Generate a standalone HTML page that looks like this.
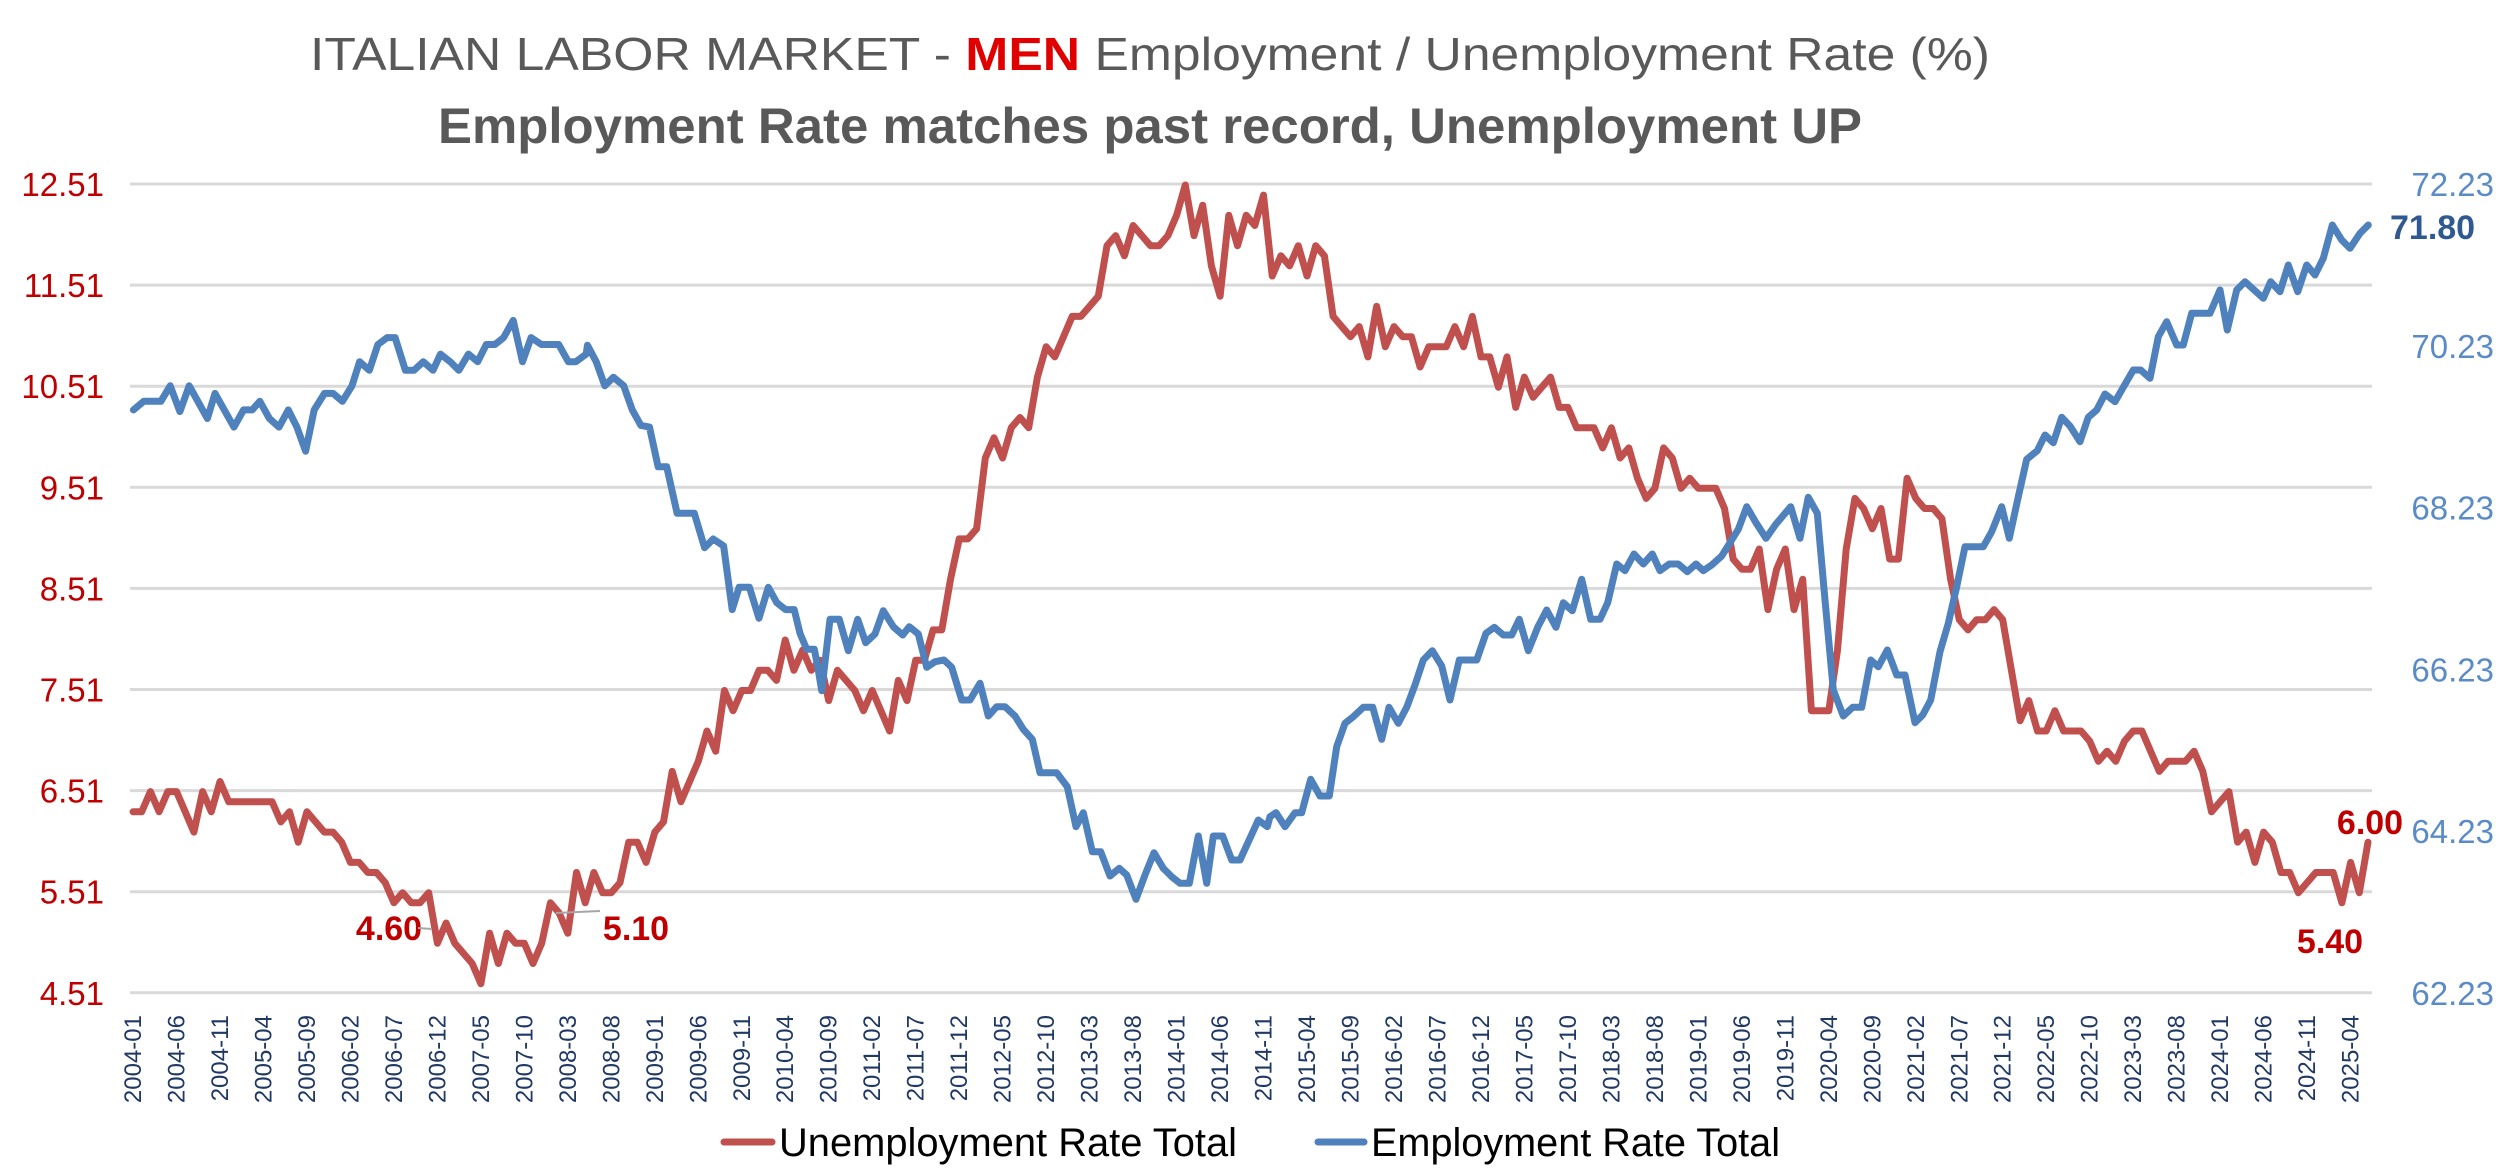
<!DOCTYPE html>
<html><head><meta charset="utf-8"><style>
html,body{margin:0;padding:0;background:#fff;}
svg{display:block;font-family:"Liberation Sans",sans-serif;}
</style></head><body>
<svg id="s" width="2500" height="1176" viewBox="0 0 2500 1176" xmlns="http://www.w3.org/2000/svg">
<rect width="2500" height="1176" fill="#fff"/>
<text x="1150" y="70" text-anchor="middle" font-size="46" fill="#595959" textLength="1680" lengthAdjust="spacingAndGlyphs">ITALIAN LABOR MARKET  - <tspan fill="#E00000" font-weight="bold">MEN</tspan> Employment / Unemployment Rate (%)</text>
<text x="1150" y="143" text-anchor="middle" font-size="50" font-weight="bold" fill="#595959" textLength="1424" lengthAdjust="spacingAndGlyphs">Employment Rate matches past record,  Unemployment UP</text>
<g id="grid" stroke="#D9D9D9" stroke-width="3"></g>
<g id="ylab" font-size="33" fill="#C00000" text-anchor="end"></g>
<g id="rlab" font-size="33" fill="#5B8BC7" text-anchor="end"></g>
<g id="xlab" font-size="24" fill="#1F3864" text-anchor="end"></g>
<polyline id="red" fill="none" stroke="#C0504D" stroke-width="7" stroke-linejoin="round" stroke-linecap="round"/>
<polyline id="blue" fill="none" stroke="#4F81BD" stroke-width="7" stroke-linejoin="round" stroke-linecap="round"/>
<g font-weight="bold" font-size="34" fill="#C00000">
<text x="389" y="940" text-anchor="middle">4.60</text>
<text x="636" y="940" text-anchor="middle">5.10</text>
<text x="2330" y="953" text-anchor="middle">5.40</text>
<text x="2370" y="834" text-anchor="middle">6.00</text>
<text x="2390" y="239" fill="#2F5A91">71.80</text>
</g>
<g stroke="#A6A6A6" stroke-width="2" fill="none">
<path d="M418 928 L432 929"/>
<path d="M556 913 L600 911"/>
</g>
<line x1="724" y1="1142" x2="772" y2="1142" stroke="#C0504D" stroke-width="7" stroke-linecap="round"/>
<text x="779" y="1156" font-size="40" fill="#000" textLength="458" lengthAdjust="spacingAndGlyphs">Unemployment Rate Total</text>
<line x1="1318" y1="1142" x2="1364" y2="1142" stroke="#4F81BD" stroke-width="7" stroke-linecap="round"/>
<text x="1371" y="1156" font-size="40" fill="#000" textLength="409" lengthAdjust="spacingAndGlyphs">Employment Rate Total</text>
</svg>
<script>
(function(){
var NS="http://www.w3.org/2000/svg";
function el(p,t,a,txt){var e=document.createElementNS(NS,t);for(var k in a)e.setAttribute(k,a[k]);if(txt!=null)e.textContent=txt;document.getElementById(p).appendChild(e);return e;}
var T=184,gs=101.1;
for(var i=0;i<=8;i++){var y=T+i*gs;el('grid','line',{x1:130,x2:2372,y1:y,y2:y});
 el('ylab','text',{x:104,y:y+12},(12.51-i).toFixed(2));}
for(var i=0;i<=5;i++){var y=T+i*gs*1.6;el('rlab','text',{x:2494,y:y+12},(72.23-2*i).toFixed(2));}
var x0=133,st=(2368-133)/257;
for(var i=0;i<258;i+=5){var yy=2004+Math.floor(i/12),mm=i%12+1;var x=x0+i*st;
 var lab=yy+"-"+(mm<10?"0"+mm:mm);
 el('xlab','text',{x:0,y:0,transform:'translate('+(x+8)+' 1015) rotate(-90)'},lab);}
var R=[6.3,6.3,6.5,6.3,6.5,6.5,6.3,6.1,6.5,6.3,6.6,6.4,
6.4,6.4,6.4,6.4,6.4,6.2,6.3,6.0,6.3,6.2,6.1,6.1,
6.0,5.8,5.8,5.7,5.7,5.6,5.4,5.5,5.4,5.4,5.5,5.0,
5.2,5.0,4.9,4.8,4.6,5.1,4.8,5.1,5.0,5.0,4.8,5.0,
5.4,5.3,5.1,5.7,5.4,5.7,5.5,5.5,5.6,6.0,6.0,5.8,
6.1,6.2,6.7,6.4,6.6,6.8,7.1,6.9,7.5,7.3,7.5,7.5,
7.7,7.7,7.6,8.0,7.7,7.9,7.7,7.8,7.4,7.7,7.6,7.5,
7.3,7.5,7.3,7.1,7.6,7.4,7.8,7.8,8.1,8.1,8.6,9.0,
9.0,9.1,9.8,10.0,9.8,10.1,10.2,10.1,10.6,10.9,10.8,11.0,
11.2,11.2,11.3,11.4,11.9,12.0,11.8,12.1,12.0,11.9,11.9,12.0,
12.2,12.5,12.0,12.3,11.7,11.4,12.2,11.9,12.2,12.1,12.4,11.6,
11.8,11.7,11.9,11.6,11.9,11.8,11.2,11.1,11.0,11.1,10.8,11.3,
10.9,11.1,11.0,11.0,10.7,10.9,10.9,10.9,11.1,10.9,11.2,10.8,
10.8,10.5,10.8,10.3,10.6,10.4,10.5,10.6,10.3,10.3,10.1,10.1,
10.1,9.9,10.1,9.8,9.9,9.6,9.4,9.5,9.9,9.8,9.5,9.6,
9.5,9.5,9.5,9.3,8.8,8.7,8.7,8.9,8.3,8.7,8.9,8.3,
8.6,7.3,7.3,7.3,7.9,8.9,9.4,9.3,9.1,9.3,8.8,8.8,
9.6,9.4,9.3,9.3,9.2,8.6,8.2,8.1,8.2,8.2,8.3,8.2,
7.7,7.2,7.4,7.1,7.1,7.3,7.1,7.1,7.1,7.0,6.8,6.9,
6.8,7.0,7.1,7.1,6.9,6.7,6.8,6.8,6.8,6.9,6.7,6.3,
6.4,6.5,6.0,6.1,5.8,6.1,6.0,5.7,5.7,5.5,5.6,5.7,
5.7,5.7,5.4,5.8,5.5,6.0];
var rp=[];for(var i=0;i<R.length;i++){rp.push((x0+i*st).toFixed(1)+","+(T+(12.51-R[i])*gs).toFixed(1));}
document.getElementById('red').setAttribute('points',rp.join(' '));
function cv(ox,oy,s,arr){return arr.map(function(p){return [ox+p[0]/s,oy+p[1]/s];});}
var z1=[[155,900],[185,875],[235,875],[262,830],[290,905],[317,830],[370,925],[392,852],[447,950],[475,900],[500,900],[522,875],[550,925],[578,950],[605,900],[630,950],[655,1020],[680,900],[710,852],[735,852],[762,875],[790,830],[812,760],[840,785],[865,710],[892,690],[915,690],[945,785],[970,785],[997,760],[1025,785],[1047,738],[1075,760],[1100,785],[1128,738],[1155,760],[1180,710],[1205,710],[1230,690],[1258,640],[1285,760],[1310,690],[1340,710],[1390,710],[1418,760],[1440,760],[1470,738]];
var z2=[[80,712],[105,760],[130,830],[155,805],[185,830],[210,900],[235,945],[260,950],[285,1065],[310,1065],[340,1200],[390,1200],[420,1300],[445,1275],[475,1295],[500,1480],[520,1415],[550,1415],[578,1505],[605,1415],[630,1460],[655,1480],[680,1480]];
var z7=[[60,460],[80,508],[103,508],[115,570],[125,632],[150,418],[178,418],[205,512],[233,418],[257,488],[285,462],[310,392],[340,440],[368,465],[388,440],[415,462],[440,562],[465,545],[492,540],[515,562],[545,660],[570,660],[600,610],[625,708],[650,680],[675,680],[705,708],[730,748],[757,778],[780,878],[830,878],[862,920],[888,1040],[910,998],[937,1115],[962,1115],[990,1188],[1018,1165],[1040,1185],[1068,1258],[1095,1185],[1122,1118],[1150,1165],[1175,1190],[1200,1210],[1228,1210],[1255,1068],[1280,1210],[1300,1068],[1328,1068],[1355,1140],[1380,1140],[1435,1020],[1462,1040]];
var z8=[[0,1310],[18,1298],[45,1340],[75,1298],[95,1298],[122,1198],[150,1248],[178,1248],[200,1100],[225,1030],[250,1010],[280,982],[308,982],[335,1078],[357,982],[385,1030],[410,982],[435,915],[460,840],[487,812],[515,858],[540,960],[568,840],[620,840],[648,760],[673,742],[700,765],[725,765],[748,718],[775,812],[803,742],[830,690],[858,742],[880,668],[907,692],[935,598],[962,718],[990,718],[1013,668],[1040,552],[1065,572],[1092,522],[1120,552],[1147,522],[1170,572],[1198,552],[1225,552],[1252,575],[1278,552],[1300,572],[1325,555]];
var z9=[[65,768],[90,728],[115,688],[140,620],[168,668],[198,715],[228,672],[272,620],[300,715],[325,592],[352,640],[375,900],[400,1170],[430,1248],[458,1222],[485,1222],[512,1080],[535,1100],[562,1050],[590,1125],[615,1125],[645,1268],[668,1245],[692,1200],[720,1055],[745,970],[770,860],[795,740],[850,740],[875,695],[905,620],[928,715],[955,590],[980,478],[1012,452],[1035,405],[1060,428],[1085,352],[1110,378],[1140,425],[1165,352],[1190,330],[1215,282],[1245,305],[1270,262],[1300,210],[1322,210],[1350,235]];
var z4=[[25,710],[50,665],[80,735],[100,735],[125,640],[180,640],[210,570],[232,690],[260,570],[285,545],[340,595],[362,545],[390,575],[415,495],[443,575],[470,495],[495,525],[520,475],[547,375],[575,420],[600,445],[630,400],[655,375]];
var B=[].concat(cv(80,100,2.904,z1),cv(560,100,2.904,z2),cv(780,480,3,z7),cv(1270,380,3,z8),cv(1700,300,3,z9),cv(2150,100,3,z4));
document.getElementById('blue').setAttribute('points',B.map(function(p){return p[0].toFixed(1)+","+p[1].toFixed(1);}).join(' '));
})();
</script>
</body></html>
